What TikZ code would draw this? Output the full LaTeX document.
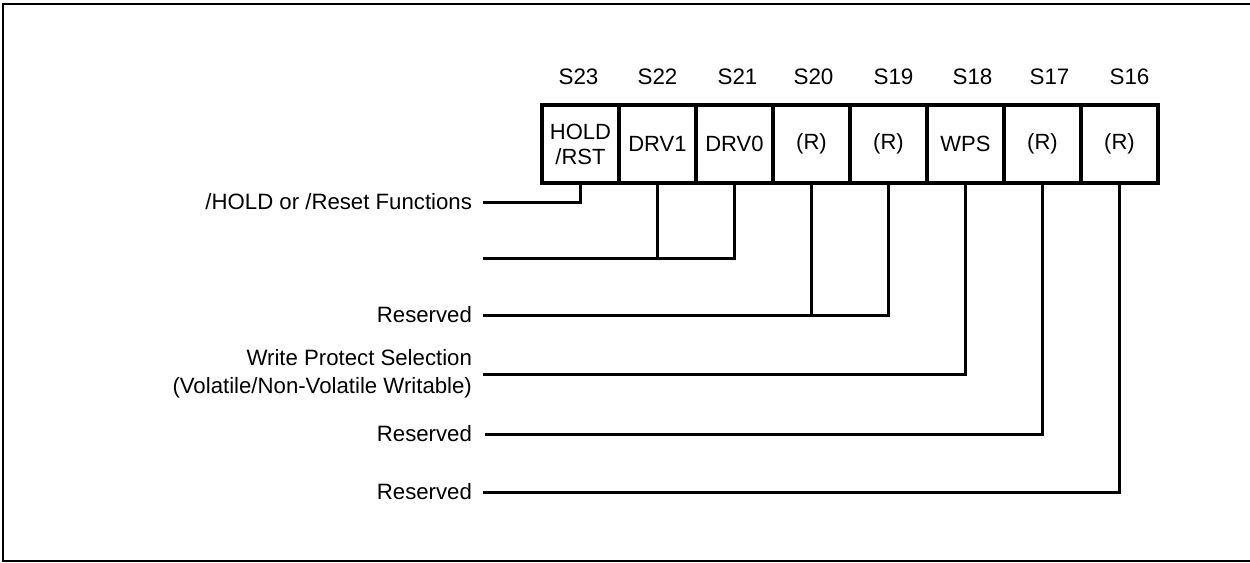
\documentclass[tikz,border=0pt]{standalone}
\usepackage{fontspec}
\setmainfont{Liberation Sans}
\usetikzlibrary{positioning}

\tikzset{
  bitcell/.style={draw, line width=1.6pt, minimum width=38.5pt, minimum height=39pt,
    inner sep=0pt, outer sep=0pt, align=center, font=\fontsize{11}{12.5}\selectfont},
  bitname/.style={font=\fontsize{11.2}{13}\selectfont, inner sep=0pt},
  wire/.style={line width=1.5pt},
  desc/.style={align=right, font=\fontsize{11.1}{14}\selectfont},
}

\begin{document}
\begin{tikzpicture}[x=0.5pt, y=-0.5pt]
    \useasboundingbox (0,0) rectangle (1250,563);
    \draw [line width=1pt] (1252,4) -- (3,4) -- (3,561) -- (1252,561);

    % status register bits
    \node [bitcell] (s23) at (580.5,144) {HOLD\\/RST};
    \node [bitcell, right=0pt of s23] (s22) {DRV1};
    \node [bitcell, right=0pt of s22] (s21) {DRV0};
    \node [bitcell, right=0pt of s21] (s20) {(R)};
    \node [bitcell, right=0pt of s20] (s19) {(R)};
    \node [bitcell, right=0pt of s19] (s18) {WPS};
    \node [bitcell, right=0pt of s18] (s17) {(R)};
    \node [bitcell, right=0pt of s17] (s16) {(R)};

    \node [bitname, above=10pt of s23, xshift=-1pt] (n23) {S23};
    \node [bitname, above=10pt of s22] (n22) {S22};
    \node [bitname, above=10pt of s21, xshift=1.5pt] (n21) {S21};
    \node [bitname, above=10pt of s20, xshift=1pt] (n20) {S20};
    \node [bitname, above=10pt of s19, xshift=2.5pt] (n19) {S19};
    \node [bitname, above=10pt of s18, xshift=3.5pt] (n18) {S18};
    \node [bitname, above=10pt of s17, xshift=3.5pt] (n17) {S17};
    \node [bitname, above=10pt of s16, xshift=5pt] (n16) {S16};

    % line ends on the left
    \coordinate (hold) at (483,202);
    \coordinate (drv) at (483,258);
    \coordinate (res1) at (483,315);
    \coordinate (wps) at (483,374);
    \coordinate (res2) at (485,434);
    \coordinate (res3) at (483,492);

    \draw [wire] (s23.south) |- (hold);
    \draw [wire] (s22.south) |- (drv);
    \draw [wire] (s21.south) |- (drv);
    \draw [wire] (s20.south) |- (res1);
    \draw [wire] (s19.south) |- (res1);
    \draw [wire] (s18.south) |- (wps);
    \draw [wire] (s17.south) |- (res2);
    \draw [wire] (s16.south) |- (res3);

    \node [desc, left=2pt of hold] (thold) {/HOLD or /Reset Functions};
    \node [desc, left=2pt of res1] (tres1) {Reserved};
    \node [desc, left=2pt of wps] (twps) {Write Protect Selection\\(Volatile/Non-Volatile Writable)};
    \node [desc, left=3pt of res2] (tres2) {Reserved};
    \node [desc, left=2pt of res3] (tres3) {Reserved};
\end{tikzpicture}
\end{document}
